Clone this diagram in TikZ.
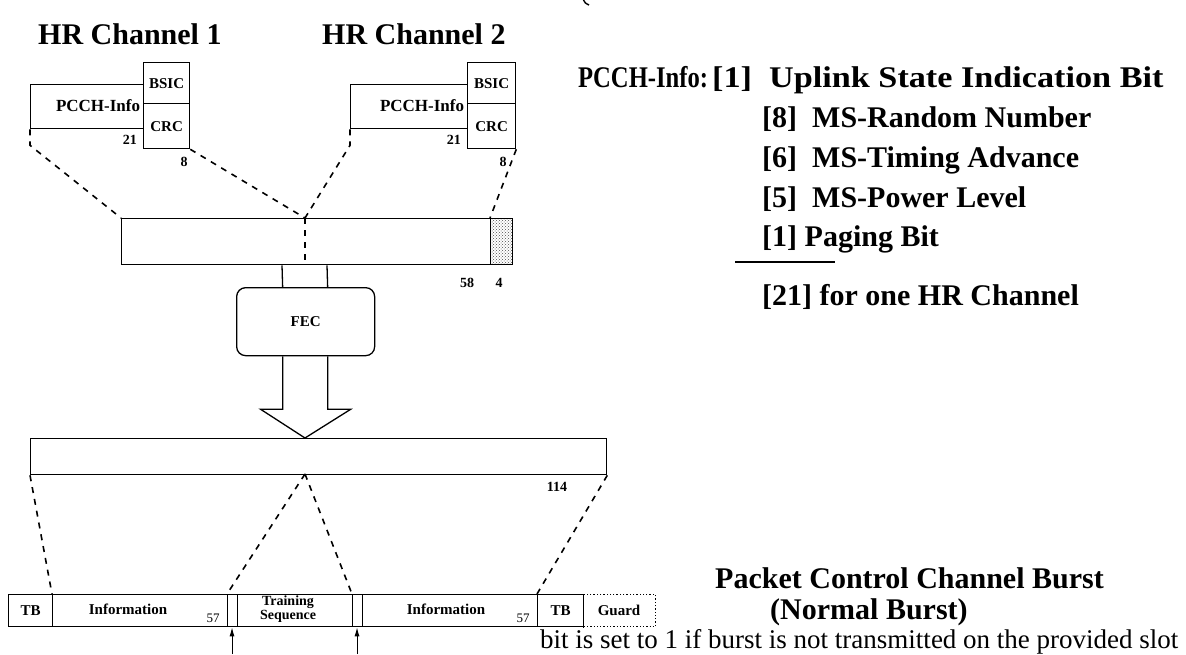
\documentclass[tikz,border=0pt]{standalone}
\usepackage{fontspec}
\setmainfont{Liberation Serif}
\usetikzlibrary{calc,arrows.meta,patterns}
\tikzset{
  box/.style={draw, line width=1.3pt, inner sep=0pt, anchor=north west},
  lbl/.style={font=\fontsize{15}{16}\selectfont\bfseries, inner sep=0pt},
  num/.style={font=\fontsize{14}{15}\selectfont\bfseries, inner sep=0pt},
  big/.style={font=\fontsize{30}{34}\selectfont\bfseries, inner sep=0pt, anchor=base west},
  note/.style={font=\fontsize{27}{30}\selectfont, inner sep=0pt, anchor=base west},
  linkdash/.style={line width=1.6pt, dash pattern=on 6pt off 6pt},
  frame/.style={line width=1.3pt},
  up/.style={line width=1pt, -{Latex[length=9pt,width=5pt]}},
  stipple/.style={fill=black!15, pattern=crosshatch dots, pattern color=black!70},
}
\begin{document}
\begin{tikzpicture}[x=1pt,y=-1pt]
\useasboundingbox (0,0) rectangle (1186,654);

% fragment of a bracket cut by the top edge
\draw[line width=1.4pt] (583.5,0) .. controls (585,3) .. (589,5);

% channel headings
\node[big] (hr1) at (38,44) {HR Channel 1};
\node[big] (hr2) at (322,44) {HR Channel 2};

% PCCH-Info / BSIC / CRC blocks of channel 1
\node[box, minimum width=113pt, minimum height=44pt] (pcch1) at (30,84) {};
\node[lbl, font=\fontsize{17}{18}\selectfont\bfseries, anchor=east] (pcchl1) at ($(pcch1.east)+(-4,-1)$) {PCCH-Info};
\node[box, lbl, minimum width=46pt, minimum height=41pt] (bsic1) at (143,62) {BSIC};
\node[box, lbl, minimum width=46pt, minimum height=45pt] (crc1) at (143,103) {CRC};
\node[num, anchor=east] (n211) at (137,140) {21};
\node[num] (n81) at (184,162) {8};

% PCCH-Info / BSIC / CRC blocks of channel 2
\node[box, minimum width=117pt, minimum height=44pt] (pcch2) at (350,84) {};
\node[lbl, font=\fontsize{17}{18}\selectfont\bfseries, anchor=east] (pcchl2) at ($(pcch2.east)+(-4,-1)$) {PCCH-Info};
\node[box, lbl, minimum width=48pt, minimum height=41pt] (bsic2) at (467,62) {BSIC};
\node[box, lbl, minimum width=48pt, minimum height=45pt] (crc2) at (467,103) {CRC};
\node[num, anchor=east] (n212) at (461,140) {21};
\node[num] (n82) at (503,162) {8};

% combined block with the shaded tail
\node[box, minimum width=391pt, minimum height=46pt] (bar1) at (121,218) {};
\node[box, stipple, minimum width=22pt, minimum height=46pt] (tail) at (490,218) {};
\coordinate (m1) at (305,218);
\draw[linkdash, line width=1.3pt] (m1) -- ++(0,42);
\node[num] (n58) at (467,283) {58};
\node[num] (n4) at (499,283) {4};

% dashed mapping lines into the combined block
\draw[linkdash] (pcch1.south west) -- ++(0,16) -- (bar1.north west);
\draw[linkdash] (crc1.south east) -- (m1);
\draw[linkdash] (pcch2.south west) -- ++(0,16) -- (m1);
\draw[linkdash] (crc2.south east) -- (tail.north west);

% FEC stage
\node[box, rounded corners=9pt, minimum width=138pt, minimum height=68pt, lbl] (fec) at (236,287) {FEC};
\draw[frame] ($(bar1.south west)+(161,0)$) -- ($(fec.north)+(-23,0)$);
\draw[frame] ($(bar1.south west)+(206,0)$) -- ($(fec.north)+(22,0)$);

% coded block
\node[box, minimum width=576pt, minimum height=36pt] (bar2) at (30,438) {};
\coordinate (tip) at (305,438);
\coordinate (m2) at (305,474);
\draw[frame, line join=miter] ($(fec.south)+(-23,0)$) -- ++(0,53) -- ++(-22,0) -- (tip)
  -- ($(fec.south)+(45,53)$) -- ++(-23,0) -- ($(fec.south)+(22,0)$);
\node[num] (n114) at (557,487) {114};

% normal burst
\node[box, dotted, minimum width=72pt, minimum height=32pt] (guard) at (583,594) {};
\node[lbl] (guardl) at (619,610) {Guard};
\node[box, lbl, minimum width=44pt, minimum height=32pt] (tb1) at (8,594) {TB};
\node[box, minimum width=175pt, minimum height=32pt] (info1) at (52,594) {};
\node[box, minimum width=10pt, minimum height=32pt] (bit1) at (227,594) {};
\node[box, minimum width=115pt, minimum height=32pt] (ts) at (237,594) {};
\node[box, minimum width=10pt, minimum height=32pt] (bit2) at (352,594) {};
\node[box, minimum width=175pt, minimum height=32pt] (info2) at (362,594) {};
\node[box, lbl, minimum width=46pt, minimum height=32pt] (tb2) at (537,594) {TB};
\node[lbl] (info1l) at (128,609) {Information};
\node[lbl] (info2l) at (446,609) {Information};
\node[lbl, align=center, font=\fontsize{14}{12}\selectfont\bfseries] (tsl) at (288,609) {Training\\Sequence};
\node[num, font=\fontsize{13}{14}\selectfont] (n57a) at (213,618) {57};
\node[num, font=\fontsize{13}{14}\selectfont] (n57b) at (523,618) {57};

% dashed mapping lines into the burst
\draw[linkdash] (bar2.south west) -- (info1.north west);
\draw[linkdash] (m2) -- (bit1.north west);
\draw[linkdash] (m2) -- (bit2.north west);
\draw[linkdash] (bar2.south east) -- (tb2.north west);

% bit pointers
\coordinate (p1) at (232,654);
\coordinate (p2) at (357,654);
\draw[up] (p1) -- (p1 |- bit1.south);
\draw[up] (p2) -- (p2 |- bit2.south);

% field list
\node[big] (pinfo) at (578,87) {\scalebox{0.82}[1]{PCCH-Info:}};
\node[big] (f1) at (712,87) {\scalebox{1.14}[1]{[1]\ \ Uplink State Indication Bit}};
\node[big] (f2) at (762,127) {[8]\ \ MS-Random Number};
\node[big] (f3) at (762,167) {[6]\ \ MS-Timing Advance};
\node[big] (f4) at (762,207) {[5]\ \ MS-Power Level};
\node[big] (f5) at (762,246) {[1] Paging Bit};
\draw[frame] (735,262) -- (835,262);
\node[big] (f6) at (762,305) {[21] for one HR Channel};

% burst caption and note
\node[big] (pkt) at (715,588) {Packet Control Channel Burst};
\node[big] (nb) at (770,619) {(Normal Burst)};
\node[note] (bitnote) at (540,648) {bit is set to 1 if burst is not transmitted on the provided slot};
\end{tikzpicture}
\end{document}
